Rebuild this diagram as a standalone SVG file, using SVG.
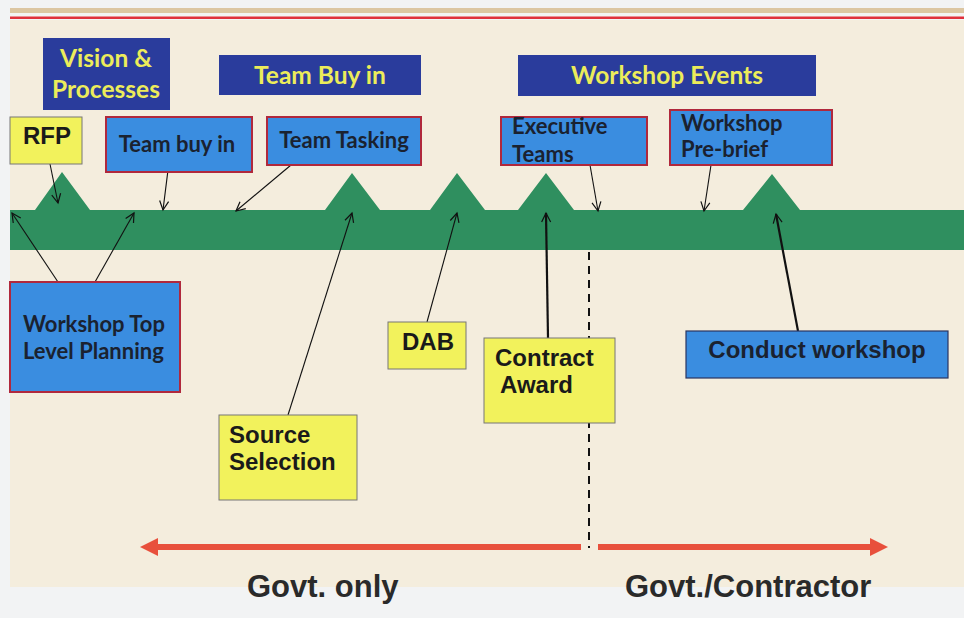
<svg xmlns="http://www.w3.org/2000/svg" width="964" height="618" viewBox="0 0 964 618">
<defs>
<marker id="ah" markerWidth="12" markerHeight="12" refX="10" refY="6" orient="auto" markerUnits="userSpaceOnUse">
<path d="M1,1.5 L10,6 L1,10.5" fill="none" stroke="#111" stroke-width="1.2"/>
</marker>
<style>
.dk{fill:#2a3c9c}
.lb{fill:#3a8de0;stroke:#b0283c;stroke-width:2}
.yl{fill:#f2f25c;stroke:#777;stroke-width:1}
.ty{font-family:Lato,"Open Sans",sans-serif;font-weight:bold;font-size:24.5px;fill:#ecec5a}
.tc{font-family:Lato,"Open Sans",sans-serif;font-weight:bold;font-size:22px;fill:#1a2230}
.ta{font-family:"Liberation Sans",Arial,sans-serif;font-weight:bold;font-size:24px;fill:#1a1a1a}
.cn{fill:none;stroke:#111;stroke-width:1.1;marker-end:url(#ah)}
.cnt{fill:none;stroke:#111;stroke-width:2.2;marker-end:url(#ah)}
.big{font-family:"Liberation Sans",Arial,sans-serif;font-weight:bold;font-size:31px;fill:#2a2a2a}
</style>
</defs>
<rect x="0" y="0" width="964" height="618" fill="#f2f3f4"/>
<rect x="10" y="20" width="954" height="567" fill="#f4eddd"/>
<rect x="10" y="8" width="954" height="5" fill="#dcc6a2"/>
<rect x="10" y="16.5" width="954" height="2.5" fill="#e0303c"/>
<g id="timeline">
<path d="M10,210 L35,210 L62,172 L90,210 L325,210 L352,173 L380,210 L430,210 L457,173 L485,210 L518,210 L546,173 L574,210 L743,210 L772,174 L800,210 L964,210 L964,250 L10,250 Z" fill="#2f8f5f"/>
</g>
<line x1="589" y1="252" x2="589" y2="548" stroke="#111" stroke-width="2" stroke-dasharray="8,6"/>
<g id="connectors">
<line class="cn" x1="50" y1="164" x2="58" y2="203"/>
<line class="cn" x1="171" y1="146" x2="163" y2="210"/>
<line class="cn" x1="291" y1="165" x2="236" y2="211"/>
<line class="cn" x1="58" y1="282" x2="12" y2="213"/>
<line class="cn" x1="95" y1="282" x2="134" y2="213"/>
<line class="cn" x1="288" y1="415" x2="352" y2="213"/>
<line class="cn" x1="427" y1="322" x2="457" y2="213"/>
<line class="cnt" x1="548" y1="338" x2="546" y2="213"/>
<line class="cn" x1="590" y1="165" x2="598" y2="211"/>
<line class="cn" x1="711" y1="165" x2="704" y2="211"/>
<line class="cnt" x1="798" y1="331" x2="776" y2="214"/>
</g>
<g id="arrow-left">
<line x1="155" y1="547" x2="581" y2="547" stroke="#e8503c" stroke-width="6"/>
<path d="M140,547 L158,538 L158,556 Z" fill="#e8503c"/>
</g>
<g id="arrow-right">
<line x1="598" y1="547" x2="872" y2="547" stroke="#e8503c" stroke-width="6"/>
<path d="M888,547 L870,538 L870,556 Z" fill="#e8503c"/>
</g>
<g id="vision">
<rect class="dk" x="43" y="38" width="127" height="72"/>
<text class="ty" x="106" y="67" text-anchor="middle">Vision &amp;</text>
<text class="ty" x="106" y="98" text-anchor="middle">Processes</text>
</g>
<g id="team-buy-in-header">
<rect class="dk" x="219" y="55" width="202" height="40"/>
<text class="ty" x="320" y="84" text-anchor="middle">Team Buy in</text>
</g>
<g id="workshop-events">
<rect class="dk" x="518" y="55" width="298" height="41"/>
<text class="ty" x="667" y="84" text-anchor="middle">Workshop Events</text>
</g>
<g id="rfp">
<rect class="yl" x="10" y="117" width="72" height="47"/>
<text class="ta" x="23" y="144">RFP</text>
</g>
<g id="team-buy-in">
<rect class="lb" x="106" y="117" width="146" height="55"/>
<text class="tc" x="177" y="152" text-anchor="middle">Team buy in</text>
</g>
<g id="team-tasking">
<rect class="lb" x="267" y="117" width="154" height="48"/>
<text class="tc" x="344" y="148" text-anchor="middle">Team Tasking</text>
</g>
<g id="executive-teams">
<rect class="lb" x="501" y="117" width="146" height="48"/>
<text class="tc" x="512" y="134">Executive</text>
<text class="tc" x="512" y="162">Teams</text>
</g>
<g id="workshop-prebrief">
<rect class="lb" x="670" y="110" width="162" height="55"/>
<text class="tc" x="681" y="131">Workshop</text>
<text class="tc" x="681" y="157">Pre-brief</text>
</g>
<g id="workshop-top-level">
<rect class="lb" x="10" y="282" width="170" height="110"/>
<text class="tc" x="23" y="332">Workshop Top</text>
<text class="tc" x="23" y="359">Level Planning</text>
</g>
<g id="source-selection">
<rect class="yl" x="219" y="415" width="138" height="85"/>
<text class="ta" x="229" y="443">Source</text>
<text class="ta" x="229" y="470">Selection</text>
</g>
<g id="dab">
<rect class="yl" x="388" y="322" width="78" height="47"/>
<text class="ta" x="402" y="350">DAB</text>
</g>
<g id="contract-award">
<rect class="yl" x="484" y="338" width="131" height="85"/>
<text class="ta" x="495" y="366">Contract</text>
<text class="ta" x="500" y="393">Award</text>
</g>
<g id="conduct-workshop">
<rect x="686" y="331" width="262" height="47" fill="#3a8de0" stroke="#2a3560" stroke-width="1.2"/>
<text class="tc" x="817" y="358" text-anchor="middle" style="font-family:'Liberation Sans',Arial,sans-serif;font-size:24px">Conduct workshop</text>
</g>
<text class="big" x="247" y="597">Govt. only</text>
<text class="big" x="625" y="597">Govt./Contractor</text>
</svg>
